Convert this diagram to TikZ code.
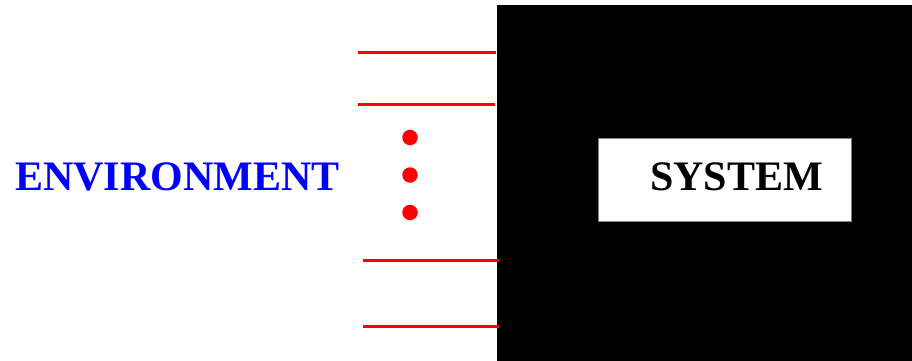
\documentclass[tikz,border=0pt]{standalone}
\usepackage{fontspec}
\setmainfont{Liberation Serif}
\definecolor{envblue}{RGB}{0,0,255}
\definecolor{linered}{RGB}{255,0,0}
\begin{document}
\begin{tikzpicture}[x=1pt,y=-1pt,
  redline/.style={draw=linered,line width=3pt},
  reddot/.style={circle,fill=linered,inner sep=0pt,minimum size=15.5pt},
  bigtext/.style={font=\fontsize{42}{42}\selectfont\bfseries,inner sep=0pt}]
\useasboundingbox (0,0) rectangle (912,361);
\fill[black] (497,5) rectangle (912,361);
\node[fill=white,draw=gray,line width=0.5pt,minimum width=253pt,minimum height=83pt,inner sep=0pt] (sysbox) at (725,180) {};
\node[bigtext,text=black,anchor=base] (sys) at (736.5,190.7) {SYSTEM};
\node[bigtext,text=envblue,anchor=base] (env) at (177.5,190.7) {ENVIRONMENT};
\coordinate (a1) at (358,52.5); \coordinate (b1) at (496,52.5);
\coordinate (a2) at (358,104.5); \coordinate (b2) at (494.5,104.5);
\coordinate (a3) at (363,260); \coordinate (b3) at (499,260);
\coordinate (a4) at (363,326); \coordinate (b4) at (499,326);
\draw[redline] (a1) -- (b1);
\draw[redline] (a2) -- (b2);
\draw[redline] (a3) -- (b3);
\draw[redline] (a4) -- (b4);
\node[reddot] (d1) at (410,137.5) {};
\node[reddot] (d2) at (410,175) {};
\node[reddot] (d3) at (410,212.5) {};
\end{tikzpicture}
\end{document}
